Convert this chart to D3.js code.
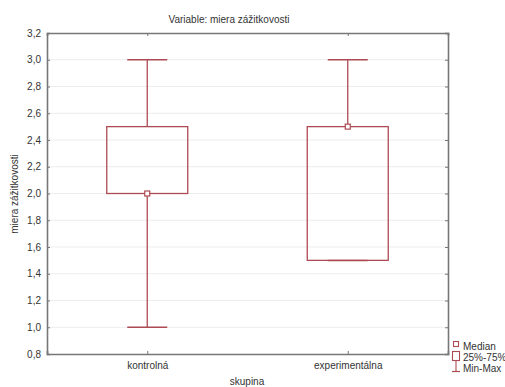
<!DOCTYPE html>
<html><head><meta charset="utf-8">
<script src="https://cdn.jsdelivr.net/npm/d3@7"></script>
<style>body{margin:0;background:#fff;overflow:hidden}text{font-family:"Liberation Sans",Arial,sans-serif;fill:#333}</style>
</head><body><svg id="c" width="505" height="387"></svg>
<script>
const categories = ["kontrolná", "experimentálna"];
const minVals = [1.0, 1.5];
const q1Vals = [2.0, 1.5];
const medianVals = [2.0, 2.5];
const q3Vals = [2.5, 2.5];
const maxVals = [3.0, 3.0];
const yTicks = [0.8,1.0,1.2,1.4,1.6,1.8,2.0,2.2,2.4,2.6,2.8,3.0,3.2];
const legendLabels = ["Median", "25%-75%", "Min-Max"];

const svg = d3.select("#c");
const m = {l:47, r:448, t:33, b:354};
const col = "#ad4b54";
const x = d3.scalePoint().domain(categories).range([m.l, m.r]).padding(0.5);
const y = d3.scaleLinear().domain([0.8, 3.2]).range([m.b, m.t]);
const fmt = d => d.toFixed(1).replace(".", ",");

// gridlines
svg.append("g").selectAll("line").data(yTicks.slice(1,-1)).join("line")
  .attr("x1", m.l).attr("x2", m.r).attr("y1", d=>y(d)).attr("y2", d=>y(d))
  .attr("stroke", "#ededed").attr("stroke-width", 1);

// axes
const yl = svg.append("g").attr("transform", `translate(${m.l},0)`)
  .call(d3.axisLeft(y).tickValues(yTicks).tickFormat(fmt).tickSize(-3).tickPadding(6));
const yr = svg.append("g").attr("transform", `translate(${m.r},0)`)
  .call(d3.axisRight(y).tickValues(yTicks).tickFormat("").tickSize(-3));
const xb = svg.append("g").attr("transform", `translate(0,${m.b})`)
  .call(d3.axisBottom(x).tickSize(-3).tickPadding(8));
const xt = svg.append("g").attr("transform", `translate(0,${m.t})`)
  .call(d3.axisTop(x).tickSize(-3).tickFormat(""));
[yl, yr, xb, xt].forEach(g => {
  g.select(".domain").attr("stroke", "#777").attr("stroke-width", 1.6);
  g.selectAll(".tick line").attr("stroke", "#777");
  g.selectAll(".tick text").attr("font-size", 10).style("fill", "#333");
});
yl.selectAll(".tick text").attr("dy", "0.32em");

// boxes
const bw = 81, cw = 40;
const data = categories.map((c,i)=>({c, min:minVals[i], q1:q1Vals[i], med:medianVals[i], q3:q3Vals[i], max:maxVals[i]}));
const g = svg.append("g").selectAll("g").data(data).join("g");
g.append("line").attr("x1", d=>x(d.c)).attr("x2", d=>x(d.c)).attr("y1", d=>y(d.max)).attr("y2", d=>y(d.q3)).attr("stroke", col).attr("stroke-width", 1.3);
g.append("line").attr("x1", d=>x(d.c)).attr("x2", d=>x(d.c)).attr("y1", d=>y(d.q1)).attr("y2", d=>y(d.min)).attr("stroke", col).attr("stroke-width", 1.3);
g.append("line").attr("x1", d=>x(d.c)-cw/2).attr("x2", d=>x(d.c)+cw/2).attr("y1", d=>y(d.max)).attr("y2", d=>y(d.max)).attr("stroke", col).attr("stroke-width", 1.5);
g.append("line").attr("x1", d=>x(d.c)-cw/2).attr("x2", d=>x(d.c)+cw/2).attr("y1", d=>y(d.min)).attr("y2", d=>y(d.min)).attr("stroke", col).attr("stroke-width", 1.5);
g.append("rect").attr("x", d=>x(d.c)-bw/2).attr("width", bw).attr("y", d=>y(d.q3)).attr("height", d=>y(d.q1)-y(d.q3))
  .attr("fill", "none").attr("stroke", col).attr("stroke-width", 1.3);
g.append("rect").attr("x", d=>x(d.c)-2.5).attr("y", d=>y(d.med)-2.5).attr("width", 5).attr("height", 5)
  .attr("fill", "#fff").attr("stroke", col).attr("stroke-width", 1.2);

// titles
svg.append("text").attr("x", 229).attr("y", 23).attr("text-anchor", "middle").attr("font-size", 10).text("Variable: miera zážitkovosti");
svg.append("text").attr("x", 247).attr("y", 385).attr("text-anchor", "middle").attr("font-size", 10).text("skupina");
svg.append("text").attr("transform", "translate(18,194) rotate(-90)").attr("text-anchor", "middle").attr("font-size", 10).text("miera zážitkovosti");

// legend
const lg = svg.append("g");
lg.append("rect").attr("x", 453.5).attr("y", 341.5).attr("width", 5).attr("height", 5).attr("fill", "#fff").attr("stroke", col).attr("stroke-width", 1.1);
lg.append("rect").attr("x", 452.5).attr("y", 351.5).attr("width", 7).attr("height", 9).attr("fill", "#fff").attr("stroke", col).attr("stroke-width", 1.1);
lg.append("line").attr("x1", 456).attr("x2", 456).attr("y1", 360.5).attr("y2", 372).attr("stroke", col).attr("stroke-width", 1.1);
lg.append("line").attr("x1", 452).attr("x2", 460).attr("y1", 371.5).attr("y2", 371.5).attr("stroke", col).attr("stroke-width", 1.2);
lg.selectAll("text").data(legendLabels).join("text").attr("x", 463).attr("y", (d,i)=>350 + i*11).attr("font-size", 10).text(d=>d);
</script></body></html>
